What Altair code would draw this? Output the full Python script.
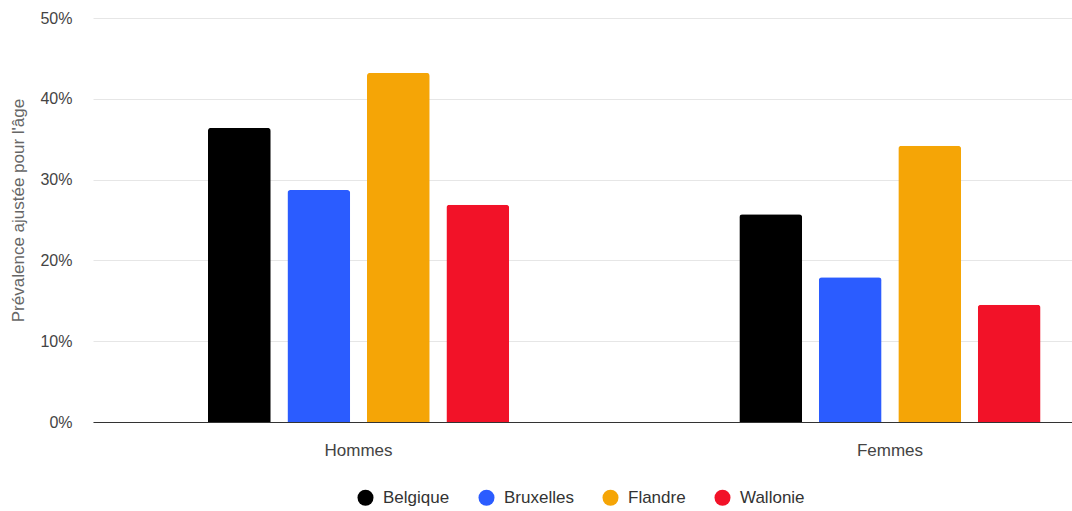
import altair as alt
import pandas as pd

groups = ["Hommes", "Femmes"]
regions = ["Belgique", "Bruxelles", "Flandre", "Wallonie"]
colors = ["#000000", "#2B5CFF", "#F5A506", "#F21228"]
hommes = [36.4, 28.7, 43.2, 26.9]
femmes = [25.7, 17.9, 34.2, 14.5]

rows = []
for g, vals in zip(groups, [hommes, femmes]):
    for r, v in zip(regions, vals):
        rows.append({"Sexe": g, "Région": r, "Valeur": v / 100})
df = pd.DataFrame(rows)

FONT = "Liberation Sans"

chart = alt.Chart(df).mark_bar(
    cornerRadiusTopLeft=3, cornerRadiusTopRight=3
).encode(
    x=alt.X("Sexe:N", sort=groups, title=None,
            scale=alt.Scale(paddingInner=0.4017, paddingOuter=0.122, align=0.822),
            axis=alt.Axis(labelAngle=0, ticks=False, tickSize=0, labelPadding=20,
                          labelFontSize=17, labelColor="#444444", labelFont=FONT,
                          domainColor="#333333", domainWidth=1)),
    xOffset=alt.XOffset("Région:N", sort=regions,
                        scale=alt.Scale(paddingInner=0.21, paddingOuter=0.105)),
    y=alt.Y("Valeur:Q", title="Prévalence ajustée pour l'âge",
            scale=alt.Scale(domain=[0, 0.5], nice=False),
            axis=alt.Axis(format=".0%", values=[0, 0.1, 0.2, 0.3, 0.4, 0.5],
                          ticks=False, tickSize=0, domain=False, labelPadding=21,
                          labelFontSize=16, labelColor="#444444", labelFont=FONT,
                          gridColor="#E6E6E6", gridWidth=1,
                          titleFontSize=17, titleColor="#666666", titleFont=FONT,
                          titleFontWeight="normal", titleX=-66, titleY=192)),
    color=alt.Color("Région:N", sort=regions,
                    scale=alt.Scale(domain=regions, range=colors),
                    legend=alt.Legend(orient="none", legendX=264, legendY=471,
                                      direction="horizontal", title=None,
                                      symbolType="circle", symbolSize=256,
                                      symbolStrokeWidth=0, symbolOpacity=1,
                                      labelFontSize=17, labelColor="#333333",
                                      labelFont=FONT, labelOffset=9,
                                      columnPadding=28)),
).properties(
    width=979, height=404,
    autosize=alt.AutoSizeParams(type="none"),
    padding={"left": 93, "top": 18, "right": 0, "bottom": 89},
).configure_view(stroke=None).configure_axisX(grid=False)

chart.save("out.html", embed_options={"renderer": "svg", "actions": False})
